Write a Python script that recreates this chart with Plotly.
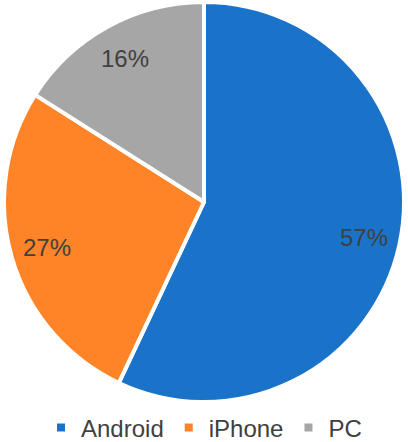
import numpy as np
import plotly.graph_objects as go

labels = ["Android", "iPhone", "PC"]
values = [57, 27, 16]
colors = ["#1A73C9", "#FF8427", "#A6A6A6"]

fig = go.Figure(
    go.Pie(
        labels=labels,
        values=values,
        sort=False,
        direction="clockwise",
        rotation=0,
        marker=dict(colors=colors, line=dict(color="white", width=4)),
        textinfo="none",
        domain=dict(x=[0, 1], y=[0, 1]),
    )
)

# percentage labels placed along each slice's mid angle
total = sum(values)
start = 0
for v in values:
    mid = (start + v / 2) / total * 2 * np.pi
    start += v
    r = 0.5 * 0.82
    fig.add_annotation(
        x=0.5 + r * np.sin(mid),
        y=0.5 + r * np.cos(mid),
        xref="paper", yref="paper",
        xanchor="center", yanchor="middle",
        text=f"{round(v / total * 100)}%",
        showarrow=False,
        font=dict(family="Liberation Sans, Arial", size=24, color="#404040"),
    )

fig.update_layout(
    width=408,
    height=442,
    margin=dict(l=4, r=4, t=2, b=40, autoexpand=False),
    paper_bgcolor="white",
    font=dict(family="Liberation Sans, Arial", color="#404040"),
    legend=dict(
        orientation="h",
        x=0.5,
        xanchor="center",
        y=-0.065,
        yanchor="middle",
        font=dict(size=24, color="#404040"),
        itemwidth=30,
    ),
)

fig.write_html(
    "out.html",
    config={"displayModeBar": False},
    post_script="document.body.style.margin='0';",
)
